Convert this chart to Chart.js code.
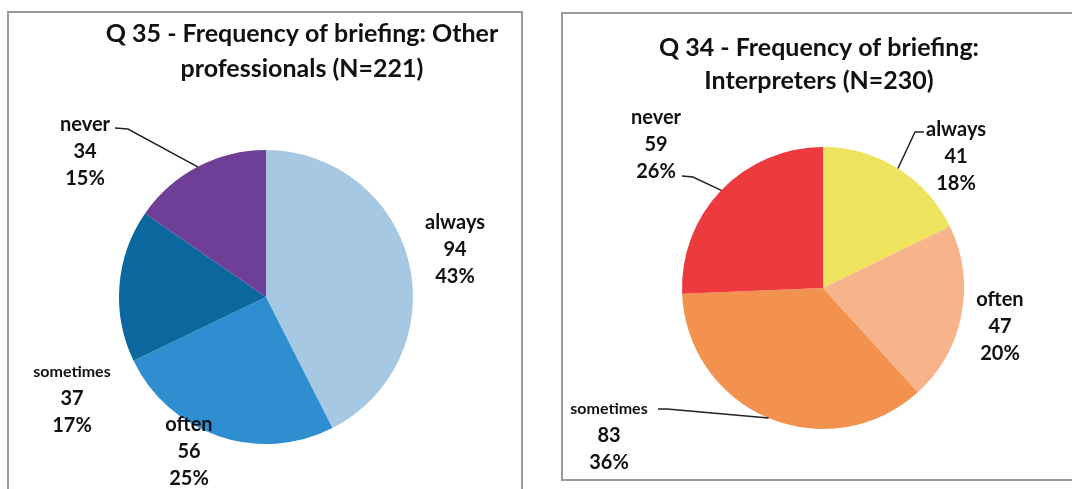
<!DOCTYPE html>
<html>
<head>
<meta charset="utf-8">
<script src="https://cdn.jsdelivr.net/npm/chart.js@4.4.1/dist/chart.umd.min.js"></script>
<style>
  html, body { margin: 0; padding: 0; background: #fff; }
  body { width: 1072px; height: 489px; position: relative; overflow: hidden; }
  .box { position: absolute; border: 2px solid #9a9a9a; box-sizing: border-box; }
  #boxLeft { left: 7px; top: 11px; width: 516px; height: 500px; }
  #boxRight { left: 561px; top: 12px; width: 540px; height: 469px; }
  canvas { position: absolute; top: 0; }
  #pieLeft { left: 0; }
  #pieRight { left: 536px; }
</style>
</head>
<body>
<div class="box" id="boxLeft"></div>
<div class="box" id="boxRight"></div>
<canvas id="pieLeft" width="536" height="489"></canvas>
<canvas id="pieRight" width="536" height="489"></canvas>
<script>
// Dados - Q35 (outros profissionais)
const leftCategories = ['always', 'often', 'sometimes', 'never'];
const leftValues = [94, 56, 37, 34];
const leftColors = ['#a6c8e3', '#2e8ed0', '#0a689f', '#6f3f98'];
const leftTitle = ['Q 35 - Frequency of briefing: Other', 'professionals (N=221)'];

// Dados - Q34 (intérpretes)
const rightCategories = ['always', 'often', 'sometimes', 'never'];
const rightValues = [41, 47, 83, 59];
const rightColors = ['#eee35f', '#f7b48a', '#f3924f', '#ec3a3e'];
const rightTitle = ['Q 34 - Frequency of briefing:', 'Interpreters (N=230)'];

const FONT = 'Lato, "Open Sans", sans-serif';

// Plugin para títulos e rótulos com linhas de chamada
const pieLabels = {
  id: 'pieLabels',
  afterDraw(chart, args, opts) {
    const ctx = chart.ctx;
    const meta = chart.getDatasetMeta(0);
    const values = chart.data.datasets[0].data;
    const total = values.reduce((s, v) => s + v, 0);

    ctx.save();
    ctx.fillStyle = '#111';
    ctx.textAlign = 'center';
    ctx.textBaseline = 'middle';

    // título
    ctx.font = 'bold 25px ' + FONT;
    opts.title.forEach((line, i) => {
      ctx.fillText(line, opts.titleX, opts.titleY + i * opts.titleGap);
    });

    // rótulos
    meta.data.forEach((arc, i) => {
      const p = opts.labels[i];
      const pct = Math.round(values[i] / total * 100) + '%';
      ctx.fillStyle = '#111';
      ctx.font = 'bold ' + (p.nameSize || 20) + 'px ' + FONT;
      ctx.fillText(chart.data.labels[i], p.x, p.y);
      ctx.font = 'bold 20px ' + FONT;
      ctx.fillText(String(values[i]), p.x, p.y + 27);
      ctx.fillText(pct, p.x, p.y + 54);

      if (p.leader) {
        const mid = (arc.startAngle + arc.endAngle) / 2;
        const ex = arc.x + Math.cos(mid) * arc.outerRadius;
        const ey = arc.y + Math.sin(mid) * arc.outerRadius;
        ctx.strokeStyle = '#222';
        ctx.lineWidth = 1.5;
        ctx.beginPath();
        ctx.moveTo(p.leader[0][0], p.leader[0][1]);
        ctx.lineTo(p.leader[1][0], p.leader[1][1]);
        ctx.lineTo(ex, ey);
        ctx.stroke();
      }
    });
    ctx.restore();
  }
};

function makePie(id, categories, values, colors, padding, pluginOpts) {
  return new Chart(document.getElementById(id), {
    type: 'pie',
    data: {
      labels: categories,
      datasets: [{
        data: values,
        backgroundColor: colors,
        borderWidth: 0
      }]
    },
    options: {
      responsive: false,
      animation: false,
      layout: { padding: padding },
      plugins: {
        legend: { display: false },
        tooltip: { enabled: false },
        pieLabels: pluginOpts
      }
    },
    plugins: [pieLabels]
  });
}

makePie('pieLeft', leftCategories, leftValues, leftColors,
  { left: 119, right: 123, top: 150, bottom: 45 },
  {
    title: leftTitle, titleX: 302, titleY: 34, titleGap: 35,
    labels: [
      { x: 455, y: 223 },
      { x: 189, y: 425 },
      { x: 72, y: 372, nameSize: 16 },
      { x: 85, y: 125, leader: [[115, 128], [128, 129]] }
    ]
  });

makePie('pieRight', rightCategories, rightValues, rightColors,
  { left: 146, right: 108, top: 147, bottom: 60 },
  {
    title: rightTitle, titleX: 283, titleY: 48, titleGap: 33,
    labels: [
      { x: 420, y: 130, leader: [[388, 132], [379, 132]] },
      { x: 464, y: 300 },
      { x: 73, y: 409, nameSize: 16, leader: [[122, 409], [131, 409]] },
      { x: 120, y: 118, leader: [[146, 176], [157, 177]] }
    ]
  });
</script>
</body>
</html>
